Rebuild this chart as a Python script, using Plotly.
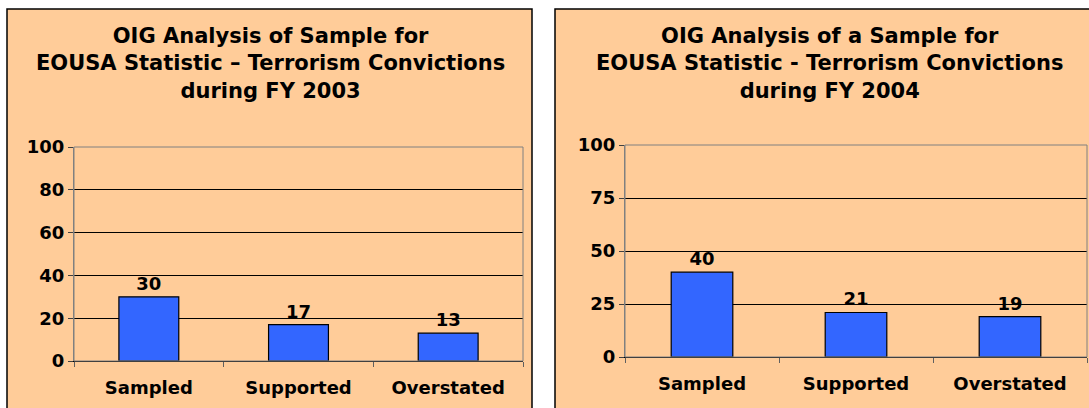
import plotly.graph_objects as go

categories = ["Sampled", "Supported", "Overstated"]
values_2003 = [30, 17, 13]
values_2004 = [40, 21, 19]
title_2003 = "OIG Analysis of Sample for<br>EOUSA Statistic – Terrorism Convictions<br>during FY 2003"
title_2004 = "OIG Analysis of a Sample for<br>EOUSA Statistic - Terrorism Convictions<br>during FY 2004"
yticks_2003 = [0, 20, 40, 60, 80, 100]
yticks_2004 = [0, 25, 50, 75, 100]

W, H = 1089, 408
def px(x):
    return x / W
def py(y):
    return 1 - y / H

FONT = "DejaVu Sans"
PEACH = "#FFCC99"
PLOTBG = "#FFFF99"
BAR = "#3366FF"

fig = go.Figure()
bar_font = dict(family=FONT, size=18, color="black", weight="bold")
for vals, xa, ya in [(values_2003, "x", "y"), (values_2004, "x2", "y2")]:
    fig.add_trace(go.Bar(x=categories, y=vals, xaxis=xa, yaxis=ya,
                         marker=dict(color=BAR, line=dict(color="black", width=1.2)),
                         width=0.4, text=[str(v) for v in vals], textposition="outside",
                         textfont=bar_font, cliponaxis=False, showlegend=False,
                         hoverinfo="skip"))

tick_font = dict(family=FONT, size=18, color="black", weight="bold")
xcommon = dict(type="category", ticks="outside", tickson="boundaries", ticklen=5,
               tickcolor="#606060", showgrid=False, showline=True, linecolor="black",
               linewidth=1, tickfont=tick_font, mirror=False, fixedrange=True,
               automargin=False, ticklabelstandoff=10)
ycommon = dict(ticks="outside", ticklen=5, tickcolor="#404040", showgrid=True,
               gridcolor="black", gridwidth=1, showline=True, linecolor="#808080",
               linewidth=1, tickfont=tick_font, zeroline=False, fixedrange=True,
               automargin=False)

fig.update_layout(
    width=W, height=H, autosize=False, margin=dict(l=0, r=0, t=0, b=0, pad=0),
    paper_bgcolor="white", plot_bgcolor=PLOTBG,
    xaxis=dict(domain=[px(74), px(523)], anchor="y", **xcommon),
    yaxis=dict(domain=[py(361), py(147)], anchor="x", range=[0, 100],
               tickvals=yticks_2003, **ycommon),
    xaxis2=dict(domain=[px(625), px(1087)], anchor="y2", **xcommon),
    yaxis2=dict(domain=[py(357), py(145)], anchor="x2", range=[0, 100],
                tickvals=yticks_2004, **ycommon),
)

shapes = [
    dict(type="rect", xref="paper", yref="paper", x0=px(7), x1=px(532), y0=-0.05, y1=py(9),
         fillcolor=PEACH, line=dict(color="black", width=1.5), layer="below"),
    dict(type="rect", xref="paper", yref="paper", x0=px(555), x1=1.05, y0=-0.05, y1=py(9),
         fillcolor=PEACH, line=dict(color="black", width=1.5), layer="below"),
    dict(type="rect", xref="x domain", yref="y domain", x0=0, x1=1, y0=0, y1=1,
         line=dict(color="#808080", width=1), fillcolor="rgba(0,0,0,0)"),
    dict(type="rect", xref="x2 domain", yref="y2 domain", x0=0, x1=1, y0=0, y1=1,
         line=dict(color="#808080", width=1), fillcolor="rgba(0,0,0,0)"),
]
fig.update_layout(shapes=shapes)

title_font = dict(family=FONT, size=21, color="black", weight="bold")
fig.add_annotation(text=title_2003, xref="paper", yref="paper", x=px(270), y=py(63),
                   xanchor="center", yanchor="middle", showarrow=False, font=title_font,
                   align="center")
fig.add_annotation(text=title_2004, xref="paper", yref="paper", x=px(829), y=py(63),
                   xanchor="center", yanchor="middle", showarrow=False, font=title_font,
                   align="center")

fig.write_html("out.html", config={"displayModeBar": False, "staticPlot": True},
               post_script="document.body.style.margin='0';document.body.style.overflow='hidden';")
